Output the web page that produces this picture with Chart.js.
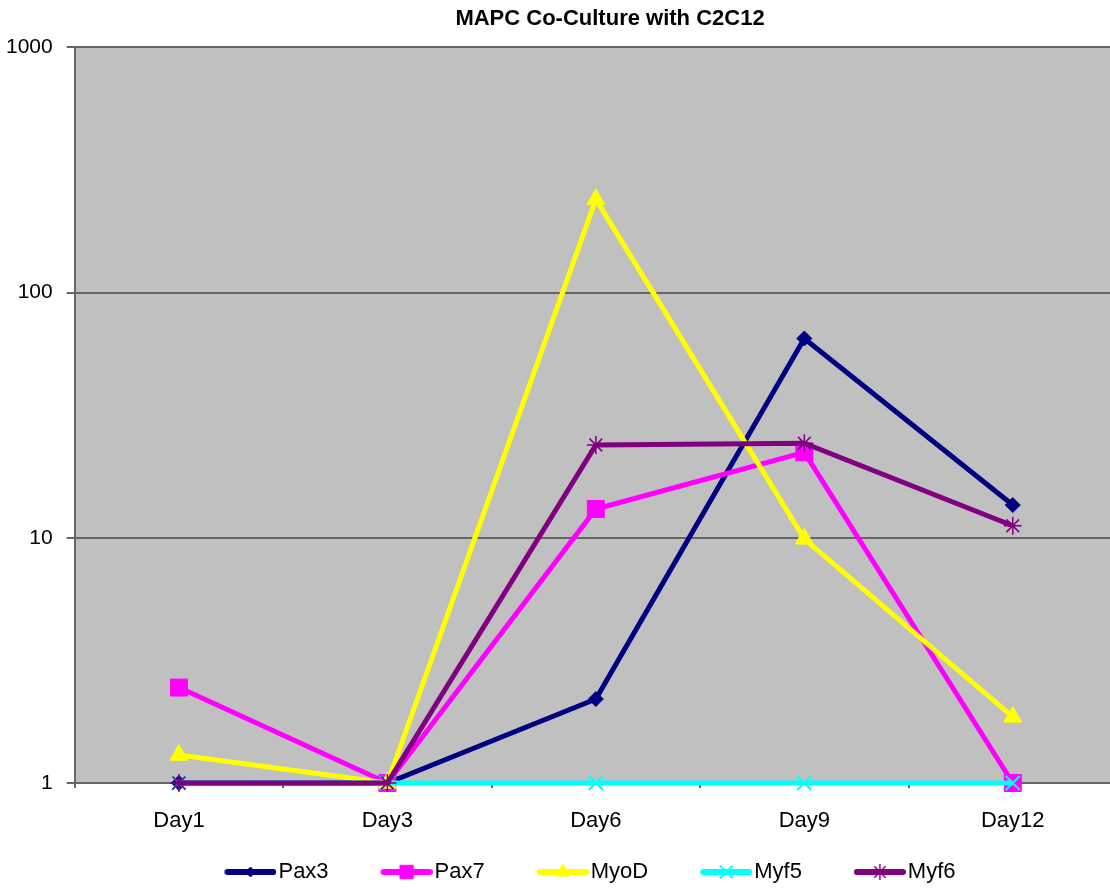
<!DOCTYPE html>
<html>
<head>
<meta charset="utf-8">
<title>MAPC Co-Culture with C2C12</title>
<script src="https://cdn.jsdelivr.net/npm/chart.js@4.4.1/dist/chart.umd.min.js"></script>
<style>
  html, body { margin: 0; padding: 0; background: #fff; overflow: hidden; width: 1110px; height: 888px; }
  #wrap { position: relative; width: 1110px; height: 888px; overflow: hidden; }
  canvas { display: block; }
</style>
</head>
<body>
<div id="wrap"><canvas id="chart" width="1130" height="888"></canvas></div>
<script>
// Relative expression of myogenic markers (log scale)
const days   = ['Day1', 'Day3', 'Day6', 'Day9', 'Day12'];
const yTicks = [1, 10, 100, 1000];

const pax3 = [1,    1, 2.2,  65,   13.6];
const pax7 = [2.45, 1, 13.1, 22.3, 1];
const myoD = [1.3,  1, 240,  9.9,  1.86];
const myf5 = [1,    1, 1,    1,    1];
const myf6 = [1,    1, 23.9, 24.3, 11.2];

const FONT = "'Liberation Sans', Arial, Helvetica, sans-serif";
const GRID = '#666666';

// look of each series: colour and marker
const series = [
  { label: 'Pax3', data: pax3, color: '#000080', style: 'rectRot',  r: 7.5,  bw: 1,   lr: 5 },
  { label: 'Pax7', data: pax7, color: '#FF00FF', style: 'rect',     r: 12,   bw: 1,   lr: 9.5 },
  { label: 'MyoD', data: myoD, color: '#FFFF00', style: 'triangle', r: 10.5, bw: 1,   lr: 8 },
  { label: 'Myf5', data: myf5, color: '#00FFFF', style: 'crossRot', r: 10,   bw: 2,   lr: 9 },
  { label: 'Myf6', data: myf6, color: '#800080', style: 'star',     r: 9,    bw: 1.5, lr: 8 }
];

// legend swatch geometry (line sample with the marker in its middle)
const LEGEND_FONT = 22;
const SWATCH_W = 85;          // legend box width reserved per item
const LINE_LEN = 52;
const TEXT_GAP = 2;

function marker(ctx, style, r, x, y) {
  const s = r * Math.SQRT1_2;
  ctx.beginPath();
  switch (style) {
    case 'rectRot':
      ctx.moveTo(x - r, y); ctx.lineTo(x, y - r); ctx.lineTo(x + r, y); ctx.lineTo(x, y + r);
      ctx.closePath(); ctx.fill(); ctx.stroke(); break;
    case 'rect':
      ctx.rect(x - s, y - s, 2 * s, 2 * s); ctx.fill(); ctx.stroke(); break;
    case 'triangle':
      ctx.moveTo(x, y - r);
      ctx.lineTo(x + Math.sin(2 * Math.PI / 3) * r, y + r / 2);
      ctx.lineTo(x - Math.sin(2 * Math.PI / 3) * r, y + r / 2);
      ctx.closePath(); ctx.fill(); ctx.stroke(); break;
    case 'crossRot':
      ctx.moveTo(x - s, y - s); ctx.lineTo(x + s, y + s);
      ctx.moveTo(x - s, y + s); ctx.lineTo(x + s, y - s);
      ctx.stroke(); break;
    case 'star':
      ctx.moveTo(x - s, y - s); ctx.lineTo(x + s, y + s);
      ctx.moveTo(x - s, y + s); ctx.lineTo(x + s, y - s);
      ctx.moveTo(x, y - r); ctx.lineTo(x, y + r);
      ctx.stroke(); break;
  }
}

function makeSwatch(s) {
  const half = LEGEND_FONT / 2;
  const rightEnd = SWATCH_W + half - TEXT_GAP;      // relative to item x
  const leftEnd = rightEnd - LINE_LEN;
  const e = Math.max(half - TEXT_GAP, -leftEnd);
  const c = document.createElement('canvas');
  c.width = SWATCH_W + 2 * e;
  c.height = 24;
  const ctx = c.getContext('2d');
  const x0 = leftEnd + e, x1 = rightEnd + e, cy = c.height / 2;
  ctx.strokeStyle = s.color;
  ctx.fillStyle = s.color;
  ctx.lineWidth = 6;
  ctx.lineCap = 'round';
  ctx.beginPath(); ctx.moveTo(x0 + 3, cy); ctx.lineTo(x1 - 3, cy); ctx.stroke();
  ctx.lineCap = 'butt';
  ctx.lineWidth = s.bw;
  marker(ctx, s.style, s.lr, (x0 + x1) / 2, cy);
  return c;
}
const swatches = series.map(makeSwatch);

// grey plot area on a white page
const plotBg = {
  id: 'plotBg',
  beforeDraw(chart) {
    const { ctx, chartArea: a, width, height } = chart;
    ctx.save();
    ctx.fillStyle = '#ffffff';
    ctx.fillRect(0, 0, width, height);
    ctx.fillStyle = '#C0C0C0';
    ctx.fillRect(a.left, a.top, a.right - a.left, a.bottom - a.top);
    ctx.restore();
  }
};

// horizontal placement of title and legend
function centerBox(box, cx) {
  if (!box) return;
  const dx = cx - (box.left + box.right) / 2;
  box.left += dx;
  box.right += dx;
}
const placeBlocks = {
  id: 'placeBlocks',
  afterLayout(chart) {
    centerBox(chart.titleBlock, 610);
    centerBox(chart.legend, 569);
  }
};

new Chart(document.getElementById('chart'), {
  type: 'line',
  data: {
    labels: days,
    datasets: series.map((s, i) => ({
      label: s.label,
      data: s.data,
      borderColor: s.color,
      backgroundColor: s.color,
      borderWidth: 5,
      tension: 0,
      pointStyle: s.style,
      pointRadius: s.r,
      pointHoverRadius: s.r,
      pointBorderWidth: s.bw,
      pointBackgroundColor: s.color,
      pointBorderColor: s.color,
      clip: false,
      order: series.length - i
    }))
  },
  plugins: [plotBg, placeBlocks],
  options: {
    responsive: false,
    animation: false,
    events: [],
    layout: { padding: { left: -8, right: 13, top: 0, bottom: -5 } },
    scales: {
      x: {
        type: 'category',
        offset: true,
        grid: {
          display: true,
          drawOnChartArea: false,
          drawTicks: true,
          tickLength: 5,
          offset: true,
          color: GRID,
          lineWidth: 2
        },
        border: { display: true, color: GRID, width: 2 },
        ticks: { font: { family: FONT, size: 22 }, color: '#000', padding: 20, maxRotation: 0 },
        afterFit(scale) { scale.height = 68; }
      },
      y: {
        type: 'logarithmic',
        min: 1,
        max: 1000,
        afterBuildTicks(scale) { scale.ticks = yTicks.map(v => ({ value: v })); },
        grid: { color: GRID, lineWidth: 2, drawTicks: true, tickLength: 8 },
        border: { display: true, color: GRID, width: 2 },
        ticks: {
          font: { family: FONT, size: 21 },
          color: '#000',
          padding: 14,
          callback: v => String(v)
        }
      }
    },
    plugins: {
      title: {
        display: true,
        text: 'MAPC Co-Culture with C2C12',
        color: '#000',
        font: { family: FONT, size: 22, weight: 'bold' },
        padding: { top: 6, bottom: 15 }
      },
      legend: {
        display: true,
        position: 'bottom',
        labels: {
          usePointStyle: true,
          pointStyleWidth: SWATCH_W,
          padding: 10,
          color: '#000',
          font: { family: FONT, size: LEGEND_FONT },
          sort: (a, b) => a.datasetIndex - b.datasetIndex,
          generateLabels(chart) {
            const items = Chart.defaults.plugins.legend.labels.generateLabels(chart);
            items.forEach(it => { it.pointStyle = swatches[it.datasetIndex]; });
            return items;
          }
        }
      },
      tooltip: { enabled: false }
    }
  }
});
</script>
</body>
</html>
